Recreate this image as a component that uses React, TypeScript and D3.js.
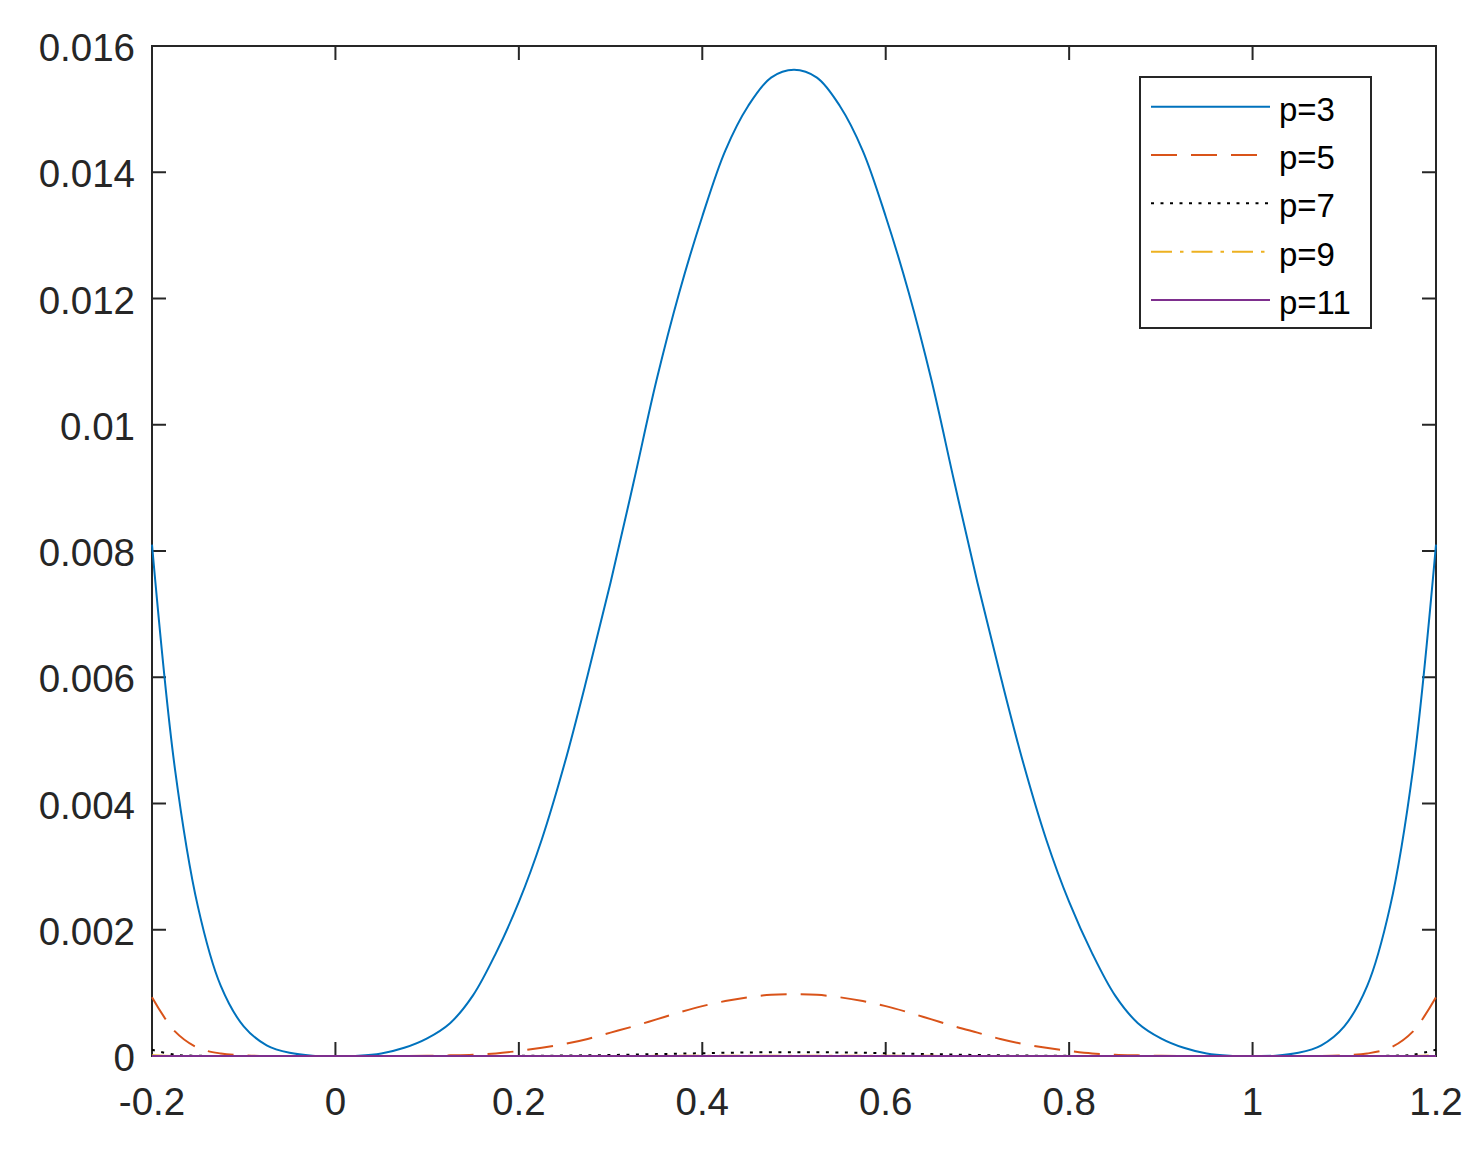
import React from "react";
import * as d3 from "d3";

const xValues = [
  -0.2, -0.175, -0.15, -0.125, -0.1, -0.075, -0.05, -0.025, 0, 0.025, 0.05, 0.075, 0.1, 0.125, 0.15, 0.175,
  0.2, 0.225, 0.25, 0.275, 0.3, 0.325, 0.35, 0.375, 0.4, 0.425, 0.45, 0.475, 0.5,
  0.525, 0.55, 0.575, 0.6, 0.625, 0.65, 0.675, 0.7, 0.725, 0.75, 0.775, 0.8, 0.825, 0.85, 0.875, 0.9,
  0.925, 0.95, 0.975, 1.0, 1.025, 1.05, 1.075, 1.1, 1.125, 1.15, 1.175, 1.2,
];

const p3 = [
  0.0081, 0.00455, 0.00237, 0.00111, 0.00047, 0.00017, 0.00005, 0.000005, 0, 0.000005, 0.00004, 0.00013, 0.00028, 0.00052, 0.00096, 0.00163,
  0.00244, 0.00343, 0.00464, 0.00603, 0.0075, 0.00908, 0.0107, 0.0121, 0.0133, 0.01434, 0.01505, 0.0155, 0.015625,
  0.0155, 0.01505, 0.01434, 0.0133, 0.0121, 0.0107, 0.00908, 0.0075, 0.00603, 0.00464, 0.00343, 0.00244, 0.00163, 0.00096, 0.00052, 0.00028,
  0.00013, 0.00004, 0.000005, 0, 0.000005, 0.00005, 0.00017, 0.00047, 0.00111, 0.00237, 0.00455, 0.0081,
];

const p5 = [
  0.00093, 0.00039, 0.00013, 0.00004, 0.00001, 0, 0, 0, 0, 0, 0, 0, 0.000003, 0.00001, 0.00002, 0.00004,
  0.00008, 0.00013, 0.00019, 0.00027, 0.00037, 0.00047, 0.00058, 0.00069, 0.00079, 0.00087, 0.00093, 0.00097, 0.00098,
  0.00097, 0.00093, 0.00087, 0.00079, 0.00069, 0.00058, 0.00047, 0.00037, 0.00027, 0.00019, 0.00013, 0.00008, 0.00004, 0.00002, 0.00001, 0.000003,
  0, 0, 0, 0, 0, 0, 0, 0.00001, 0.00004, 0.00013, 0.00039, 0.00093,
];

const p7 = [
  0.0001, 0.00002, 0.000004, 0, 0, 0, 0, 0, 0, 0, 0, 0, 0, 0, 0, 0,
  0.000002, 0.000004, 0.000007, 0.000011, 0.000016, 0.000022, 0.00003, 0.000037, 0.000044, 0.000051, 0.000056, 0.00006, 0.000061,
  0.00006, 0.000056, 0.000051, 0.000044, 0.000037, 0.00003, 0.000022, 0.000016, 0.000011, 0.000007, 0.000004, 0.000002, 0, 0, 0, 0,
  0, 0, 0, 0, 0, 0, 0, 0, 0, 0.000004, 0.00002, 0.0001,
];

const p9 = [
  0.000012, 0.000001, 0, 0, 0, 0, 0, 0, 0, 0, 0, 0, 0, 0, 0, 0,
  0, 0, 0, 0.000001, 0.000001, 0.000001, 0.000002, 0.000002, 0.000003, 0.000003, 0.000004, 0.000004, 0.000004,
  0.000004, 0.000004, 0.000003, 0.000003, 0.000002, 0.000002, 0.000001, 0.000001, 0.000001, 0, 0, 0, 0, 0, 0, 0,
  0, 0, 0, 0, 0, 0, 0, 0, 0, 0, 0.000001, 0.000012,
];

const p11 = [
  0.0000015, 0, 0, 0, 0, 0, 0, 0, 0, 0, 0, 0, 0, 0, 0, 0,
  0, 0, 0, 0, 0, 0, 0, 0, 0, 0, 0, 0, 0,
  0, 0, 0, 0, 0, 0, 0, 0, 0, 0, 0, 0, 0, 0, 0, 0,
  0, 0, 0, 0, 0, 0, 0, 0, 0, 0, 0, 0.0000015,
];

const seriesNames = ["p=3", "p=5", "p=7", "p=9", "p=11"];
const seriesValues = [p3, p5, p7, p9, p11];
const seriesColors = ["#0072BD", "#D95319", "#000000", "#EDB120", "#7E2F8E"];
const seriesDashes = ["", "26,14", "3,6.5", "21,8,3.5,8", ""];

const xTicks = [-0.2, 0, 0.2, 0.4, 0.6, 0.8, 1, 1.2];
const xTickLabels = ["-0.2", "0", "0.2", "0.4", "0.6", "0.8", "1", "1.2"];
const yTicks = [0, 0.002, 0.004, 0.006, 0.008, 0.01, 0.012, 0.014, 0.016];
const yTickLabels = ["0", "0.002", "0.004", "0.006", "0.008", "0.01", "0.012", "0.014", "0.016"];

const W = 1478;
const H = 1150;
const L = 152;
const R = 1436;
const T = 46;
const B = 1056;
const AX = "#262626";
const FONT = "'Liberation Sans', Arial, Helvetica, sans-serif";

export default function App() {
  const x = d3.scaleLinear().domain([-0.2, 1.2]).range([L, R]);
  const y = d3.scaleLinear().domain([0, 0.016]).range([B, T]);
  const line = d3
    .line<number>()
    .x((_, i) => x(xValues[i]))
    .y((d) => y(d))
    .curve(d3.curveCatmullRom.alpha(0.5));

  const tickLen = 14;
  const legX = 1140;
  const legY = 77;
  const legW = 231;
  const legH = 251;
  const rowY = [106.7, 155, 203.3, 251.7, 300];

  return (
    <svg
      width={W}
      height={H}
      style={{ position: "absolute", left: 0, top: 0, background: "#fff" }}
    >
      <rect x={0} y={0} width={W} height={H} fill="#fff" />
      <defs>
        <clipPath id="plotclip">
          <rect x={L - 2} y={T - 2} width={R - L + 4} height={B - T + 3} />
        </clipPath>
      </defs>
      <rect x={L} y={T} width={R - L} height={B - T} fill="none" stroke={AX} strokeWidth={2} />
      {xTicks.map((t, i) => (
        <g key={"xt" + i}>
          <line x1={x(t)} x2={x(t)} y1={B} y2={B - tickLen} stroke={AX} strokeWidth={2} />
          <line x1={x(t)} x2={x(t)} y1={T} y2={T + tickLen} stroke={AX} strokeWidth={2} />
          <text
            x={x(t)}
            y={B + 59}
            textAnchor="middle"
            fontFamily={FONT}
            fontSize={38.5}
            fill={AX}
          >
            {xTickLabels[i]}
          </text>
        </g>
      ))}
      {yTicks.map((t, i) => (
        <g key={"yt" + i}>
          <line x1={L} x2={L + tickLen} y1={y(t)} y2={y(t)} stroke={AX} strokeWidth={2} />
          <line x1={R} x2={R - tickLen} y1={y(t)} y2={y(t)} stroke={AX} strokeWidth={2} />
          <text
            x={135}
            y={y(t) + 15}
            textAnchor="end"
            fontFamily={FONT}
            fontSize={38.5}
            fill={AX}
          >
            {yTickLabels[i]}
          </text>
        </g>
      ))}
      <g clipPath="url(#plotclip)">
        {seriesValues.map((vals, i) => (
          <path
            key={"s" + i}
            d={line(vals) || ""}
            fill="none"
            stroke={seriesColors[i]}
            strokeWidth={2}
            strokeDasharray={seriesDashes[i] || undefined}
          />
        ))}
      </g>
      <rect x={legX} y={legY} width={legW} height={legH} fill="#fff" stroke={AX} strokeWidth={2} />
      {seriesNames.map((n, i) => (
        <g key={"lg" + i}>
          <line
            x1={1151}
            x2={1270}
            y1={rowY[i]}
            y2={rowY[i]}
            stroke={seriesColors[i]}
            strokeWidth={2}
            strokeDasharray={seriesDashes[i] || undefined}
          />
          <text x={1279} y={rowY[i] + 14} fontFamily={FONT} fontSize={33} fill="#000">
            {n}
          </text>
        </g>
      ))}
    </svg>
  );
}
